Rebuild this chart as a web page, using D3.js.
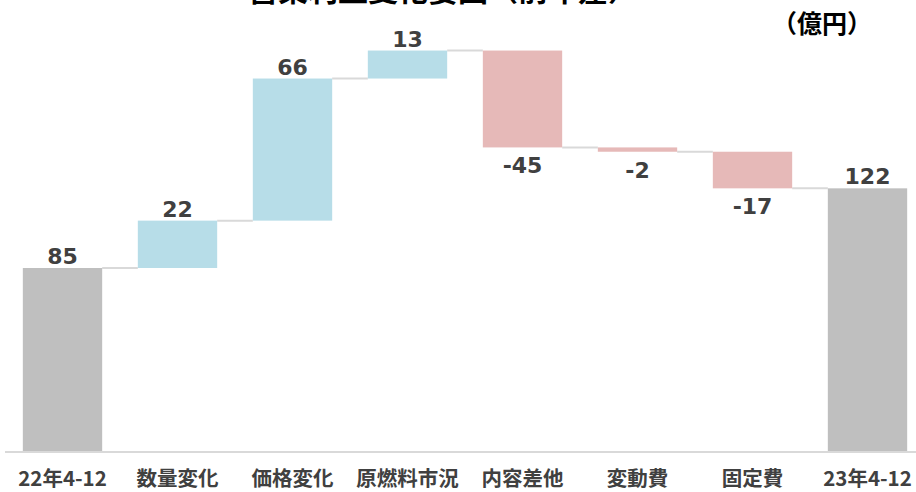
<!DOCTYPE html>
<html>
<head>
<meta charset="utf-8">
<script src="https://cdn.jsdelivr.net/npm/d3@7"></script>
<style>
  body { margin: 0; background: #fff; }
  svg { display: block; }
</style>
</head>
<body>
<div id="chart"></div>
<script>
// waterfall data (億円)
const categories = ['22年4-12', '数量変化', '価格変化', '原燃料市況', '内容差他', '変動費', '固定費', '23年4-12'];
const values = [85, 22, 66, 13, -45, -2, -17, 122];
const kinds = ['total', 'delta', 'delta', 'delta', 'delta', 'delta', 'delta', 'total'];

const width = 916, height = 492;
const baseY = 451;

const svg = d3.select('#chart').append('svg')
    .attr('width', width)
    .attr('height', height);

const x = d3.scaleBand()
    .domain(categories)
    .range([5, 925])
    .paddingInner(0.31)
    .paddingOuter(0.155);

const y = d3.scaleLinear()
    .domain([0, 186])
    .range([baseY, baseY - 186 * 2.153]);

// compute start / end of each step
let running = 0;
const steps = categories.map((c, i) => {
    let start, end;
    if (kinds[i] === 'total') {
        start = 0; end = values[i]; running = values[i];
    } else {
        start = running; end = running + values[i]; running = end;
    }
    return { cat: c, value: values[i], kind: kinds[i], start, end };
});

const colour = d => d.kind === 'total' ? '#bfbfbf' : (d.value >= 0 ? '#b7dde8' : '#e6b9b8');

// connectors between bars
svg.append('g').selectAll('line')
    .data(steps.slice(0, -1))
    .enter().append('line')
    .attr('x1', d => x(d.cat) + x.bandwidth())
    .attr('x2', (d, i) => x(steps[i + 1].cat))
    .attr('y1', d => y(d.end))
    .attr('y2', d => y(d.end))
    .attr('stroke', '#d9d9d9')
    .attr('stroke-width', 2);

// bars
svg.append('g').selectAll('rect')
    .data(steps)
    .enter().append('rect')
    .attr('x', d => x(d.cat))
    .attr('width', x.bandwidth())
    .attr('y', d => y(Math.max(d.start, d.end)))
    .attr('height', d => Math.abs(y(d.start) - y(d.end)))
    .attr('fill', colour);

// axis line
svg.append('line')
    .attr('x1', 5).attr('x2', width)
    .attr('y1', baseY + 1).attr('y2', baseY + 1)
    .attr('stroke', '#d9d9d9')
    .attr('stroke-width', 2);

// value labels
svg.append('g').selectAll('text')
    .data(steps)
    .enter().append('text')
    .attr('x', d => x(d.cat) + x.bandwidth() / 2)
    .attr('y', d => d.value >= 0 ? y(Math.max(d.start, d.end)) - 4 : y(Math.min(d.start, d.end)) + 26)
    .attr('text-anchor', 'middle')
    .attr('font-family', '"DejaVu Sans", Verdana, sans-serif')
    .attr('font-weight', 'bold')
    .attr('font-size', 22)
    .attr('fill', '#404040')
    .text(d => d.value);

// category labels
svg.append('g').selectAll('text')
    .data(categories)
    .enter().append('text')
    .attr('x', d => x(d) + x.bandwidth() / 2)
    .attr('y', 486)
    .attr('text-anchor', 'middle')
    .attr('font-family', '"Noto Sans CJK JP", "DejaVu Sans", sans-serif')
    .attr('font-weight', 'bold')
    .attr('font-size', 20.5)
    .attr('fill', '#404040')
    .text(d => d);

// title (clipped at the top in the original)
svg.append('text')
    .attr('x', 443)
    .attr('y', 1)
    .attr('text-anchor', 'middle')
    .attr('font-family', '"Noto Sans CJK JP", sans-serif')
    .attr('font-weight', 'bold')
    .attr('font-size', 30)
    .attr('fill', '#000')
    .text('営業利益変化要因（前年差）');

// unit
svg.append('text')
    .attr('x', 822)
    .attr('y', 33)
    .attr('text-anchor', 'middle')
    .attr('font-family', '"Noto Sans CJK JP", sans-serif')
    .attr('font-weight', 'bold')
    .attr('font-size', 25)
    .attr('fill', '#000')
    .text('（億円）');
</script>
</body>
</html>
